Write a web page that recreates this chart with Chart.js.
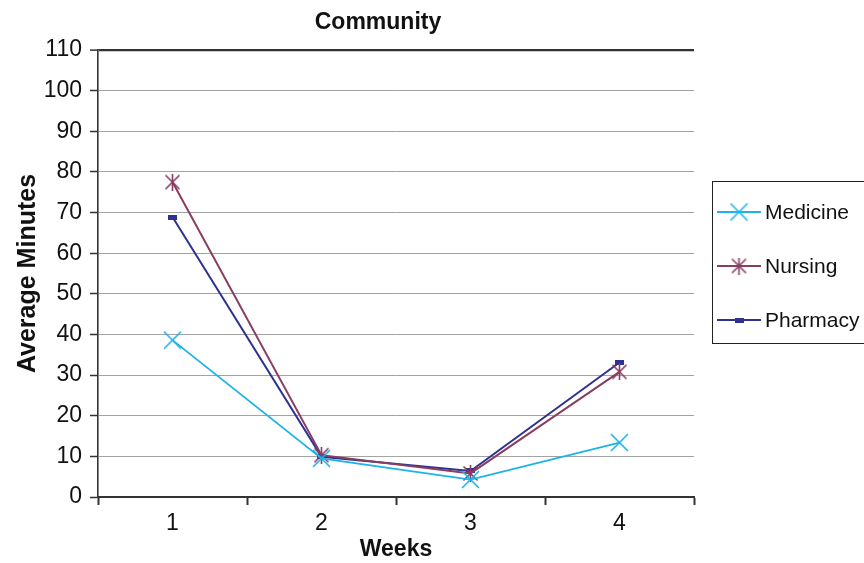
<!DOCTYPE html>
<html>
<head>
<meta charset="utf-8">
<script src="https://cdn.jsdelivr.net/npm/chart.js@4.4.1/dist/chart.umd.min.js"></script>
<style>
  html, body { margin: 0; padding: 0; background: #fff; }
  #wrap { width: 864px; height: 563px; }
</style>
</head>
<body>
<div id="wrap"><canvas id="c" width="864" height="563"></canvas></div>
<script>
// Weekly average minutes per discipline
const weeks = ['1', '2', '3', '4'];
const medicine = [38.6, 9.5, 4.3, 13.4];
const nursing = [77.5, 10.3, 5.8, 30.8];
const pharmacy = [68.9, 9.9, 6.4, 33.1];
const seriesNames = ['Medicine', 'Nursing', 'Pharmacy'];
const chartTitle = 'Community';
const yTitle = 'Average Minutes';
const xTitle = 'Weeks';

const COL_MED = '#1db3ea';
const COL_NUR = '#883e60';
const COL_PHA = '#2e3190';
const INK = '#111';
const FONT = "'Liberation Sans', Arial, sans-serif";

// Marker glyphs drawn on small canvases
function makeMarker(w, h, draw) {
  const cv = document.createElement('canvas');
  cv.width = w; cv.height = h;
  draw(cv.getContext('2d'), w, h);
  return cv;
}
const xMark = makeMarker(19, 19, (g, w, h) => {
  g.strokeStyle = COL_MED; g.lineWidth = 1.6;
  g.beginPath();
  g.moveTo(1, 1); g.lineTo(w - 1, h - 1);
  g.moveTo(w - 1, 1); g.lineTo(1, h - 1);
  g.stroke();
});
const starMark = makeMarker(17, 17, (g, w, h) => {
  g.strokeStyle = COL_NUR; g.lineWidth = 1.6;
  g.beginPath();
  g.moveTo(1.5, 1.5); g.lineTo(w - 1.5, h - 1.5);
  g.moveTo(w - 1.5, 1.5); g.lineTo(1.5, h - 1.5);
  g.moveTo(w / 2, 0); g.lineTo(w / 2, h);
  g.stroke();
});
const dashMark = makeMarker(9, 5, (g, w, h) => {
  g.fillStyle = COL_PHA; g.fillRect(0, 0, w, h);
});

// Chart title and the boxed legend at the right
const decorations = {
  id: 'decorations',
  afterDraw(chart) {
    const g = chart.ctx;
    g.save();
    g.fillStyle = INK;
    g.font = 'bold 23px ' + FONT;
    g.textAlign = 'center';
    g.textBaseline = 'middle';
    g.fillText(chartTitle, 378, 23);

    // legend box
    g.strokeStyle = '#222';
    g.lineWidth = 1;
    g.strokeRect(712.5, 181.5, 152, 162);
    const items = [
      [seriesNames[0], COL_MED, xMark, 212],
      [seriesNames[1], COL_NUR, starMark, 266],
      [seriesNames[2], COL_PHA, dashMark, 320]
    ];
    g.font = '21px ' + FONT;
    g.textAlign = 'left';
    for (const [name, col, mk, y] of items) {
      g.strokeStyle = col;
      g.lineWidth = 2;
      g.beginPath();
      g.moveTo(717, y); g.lineTo(761, y);
      g.stroke();
      g.drawImage(mk, 739 - mk.width / 2, y - mk.height / 2);
      g.fillStyle = INK;
      g.fillText(name, 765, y + 1);
    }
    g.restore();
  }
};

new Chart(document.getElementById('c'), {
  type: 'line',
  data: {
    labels: weeks,
    datasets: [
      { label: seriesNames[0], data: medicine, borderColor: COL_MED, backgroundColor: COL_MED,
        borderWidth: 1.8, pointStyle: xMark, pointRadius: 9, tension: 0 },
      { label: seriesNames[1], data: nursing, borderColor: COL_NUR, backgroundColor: COL_NUR,
        borderWidth: 2, pointStyle: starMark, pointRadius: 8, tension: 0 },
      { label: seriesNames[2], data: pharmacy, borderColor: COL_PHA, backgroundColor: COL_PHA,
        borderWidth: 2, pointStyle: dashMark, pointRadius: 5, tension: 0 }
    ]
  },
  options: {
    responsive: false,
    animation: false,
    devicePixelRatio: 1,
    layout: { padding: { top: 50, right: 170, left: 0, bottom: 0 } },
    plugins: {
      legend: { display: false },
      title: { display: false },
      tooltip: { enabled: false }
    },
    scales: {
      x: {
        offset: true,
        afterFit(s) { s.height = 66; },
        grid: { display: true, drawOnChartArea: false, offset: true,
                tickLength: 8, tickColor: '#333', tickWidth: 2 },
        border: { display: true, color: '#333', width: 2 },
        ticks: { color: INK, font: { family: FONT, size: 23 }, padding: 5 },
        title: { display: true, text: xTitle, color: INK,
                 font: { family: FONT, size: 23, weight: 'bold' },
                 padding: { top: 0, bottom: 0 } }
      },
      y: {
        min: 0,
        max: 110,
        afterFit(s) { s.width = 98; },
        grid: {
          color: c => (c.tick && (c.tick.value === 110 || c.tick.value === 0)) ? '#333' : '#a3a3a3',
          lineWidth: c => (c.tick && c.tick.value === 110) ? 2.2 : 1,
          tickLength: 8, tickColor: '#333', tickWidth: 1.5
        },
        border: { display: true, color: '#333', width: 1.6 },
        ticks: { stepSize: 10, color: INK, font: { family: FONT, size: 23 }, padding: 8 },
        title: { display: true, text: yTitle, color: INK,
                 font: { family: FONT, size: 25, weight: 'bold' },
                 padding: { top: 13, bottom: 0 } }
      }
    }
  },
  plugins: [decorations]
});
</script>
</body>
</html>
